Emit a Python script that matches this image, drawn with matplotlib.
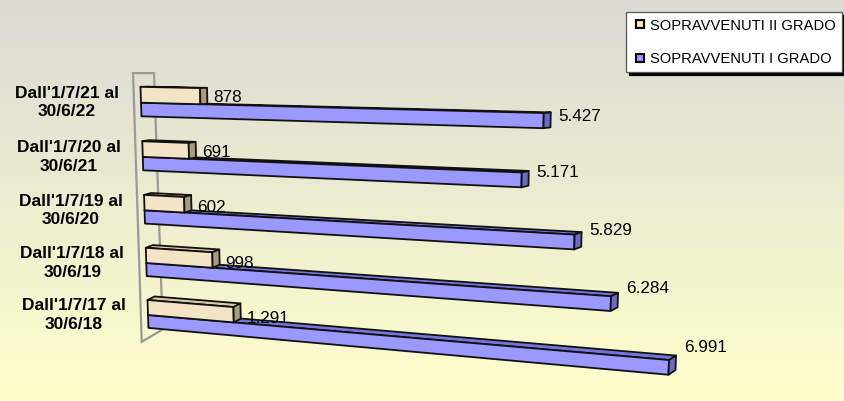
import numpy as np
import matplotlib
matplotlib.use("Agg")
import matplotlib.pyplot as plt
from matplotlib.patches import Polygon
from matplotlib.lines import Line2D

plt.rcParams["font.family"] = ["Liberation Sans", "DejaVu Sans"]

# ---- data -------------------------------------------------------------
periods = [
    "Dall'1/7/21 al\n30/6/22",
    "Dall'1/7/20 al\n30/6/21",
    "Dall'1/7/19 al\n30/6/20",
    "Dall'1/7/18 al\n30/6/19",
    "Dall'1/7/17 al\n30/6/18",
]
sopravvenuti_i_grado = [5427, 5171, 5829, 6284, 6991]
sopravvenuti_ii_grado = [878, 691, 602, 998, 1291]
series_names = ["SOPRAVVENUTI II GRADO", "SOPRAVVENUTI I GRADO"]

# ---- styling ----------------------------------------------------------
W, H = 845, 401
BEIGE = dict(front="#F3E4C6", top="#D9C9A6", end="#A99C7E")
BLUE = dict(front="#9999FF", top="#7474DC", end="#6A6ACB")
EDGE = "#111111"

# ---- perspective view -------------------------------------------------
# the front plane of the bars is (value, row) -> canvas pixels; a row step
# of 1 separates two periods, value runs along the slanted bar direction
VALUE_MAX = 7000.0
ROW_MAX = len(periods) - 1
plane_corners = [(0.0, 0.0), (VALUE_MAX, 0.0), (0.0, ROW_MAX), (VALUE_MAX, ROW_MAX)]
canvas_corners = [(141.0, 102.7), (678.5, 116.5), (148.0, 315.0), (669.8, 360.1)]
HORIZON = 73.0      # eye level in canvas pixels
DEPTH_RATE = 450.0  # how fast receding edges tilt away from the horizon
BAR_DEPTH = 7.0
WALL_FRONT, WALL_BACK = -7.0, 14.0
WALL_ROWS = (-0.54, ROW_MAX + 0.44)
BAR_II = (-0.29, 0.0)   # row band of the II grado bar inside a period
BAR_I = (0.0, 0.25)     # row band of the I grado bar


def fit_homography(src, dst):
    a, b = [], []
    for (u, v), (x, y) in zip(src, dst):
        a.append([u, v, 1, 0, 0, 0, -u * x, -v * x]); b.append(x)
        a.append([0, 0, 0, u, v, 1, -u * y, -v * y]); b.append(y)
    h = np.linalg.solve(np.array(a, float), np.array(b, float))
    return np.append(h, 1.0).reshape(3, 3)


HMAT = fit_homography(plane_corners, canvas_corners)


def project(value, row, depth=0.0):
    p = HMAT @ np.array([value, row, 1.0])
    x, y = p[0] / p[2], p[1] / p[2]
    return x + depth, y - depth * (y - HORIZON) / DEPTH_RATE


def box_faces(value, r0, r1, depth):
    front = [project(0, r0), project(value, r0), project(value, r1), project(0, r1)]
    top = [project(0, r0), project(value, r0), project(value, r0, depth), project(0, r0, depth)]
    end = [project(value, r0), project(value, r0, depth), project(value, r1, depth), project(value, r1)]
    return front, top, end


def draw_bar(ax, value, r0, r1, colors):
    front, top, end = box_faces(value, r0, r1, BAR_DEPTH)
    for pts, key in ((top, "top"), (front, "front"), (end, "end")):
        ax.add_patch(Polygon(pts, closed=True, facecolor=colors[key],
                             edgecolor=EDGE, lw=1.3, joinstyle="round"))
    return front, end


def fmt(v):
    return f"{v:,}".replace(",", ".")


# ---- figure -----------------------------------------------------------
fig = plt.figure(figsize=(W / 100, H / 100), dpi=100)

bg = fig.add_axes([0, 0, 1, 1])
top_c = np.array([218, 218, 212]) / 255
bot_c = np.array([255, 255, 204]) / 255
t = np.linspace(0, 1, 256)[:, None]
grad = top_c[None, :] * (1 - t) + bot_c[None, :] * t
bg.imshow(grad[:, None, :], aspect="auto", extent=[0, 1, 0, 1])
bg.set_axis_off()

ax = fig.add_axes([0, 0, 1, 1])
ax.set_xlim(0, W)
ax.set_ylim(H, 0)
ax.set_axis_off()
ax.patch.set_alpha(0)

# category wall at the base of the bars
wall = [project(0, WALL_ROWS[0], WALL_FRONT), project(0, WALL_ROWS[0], WALL_BACK),
        project(0, WALL_ROWS[1], WALL_BACK), project(0, WALL_ROWS[1], WALL_FRONT)]
ax.add_patch(Polygon(wall, closed=True, fill=False, edgecolor="#9A9A9A", lw=1.6))

for i, (label, v1, v2) in enumerate(zip(periods, sopravvenuti_i_grado, sopravvenuti_ii_grado)):
    f1, e1 = draw_bar(ax, v1, i + BAR_I[0], i + BAR_I[1], BLUE)
    f2, e2 = draw_bar(ax, v2, i + BAR_II[0], i + BAR_II[1], BEIGE)

    # period label left of the wall
    lx, ly = project(0, i)
    ax.text(lx - 22, ly, label, ha="right", va="center", multialignment="center",
            fontsize=12.5, fontweight="bold", linespacing=1.3, color="black")

    # value labels after the bar ends
    yc1 = (f1[1][1] + f1[2][1]) / 2
    ax.text(max(p[0] for p in e1) + 8, yc1 - (1 + 0.063 * (yc1 - HORIZON)), fmt(v1),
            ha="left", va="center", fontsize=12.3, color="black")
    yc2 = (f2[1][1] + f2[2][1]) / 2
    ax.text(max(p[0] for p in e2) + 6, yc2 + 0.5 + 0.015 * (yc2 - HORIZON), fmt(v2),
            ha="left", va="center", fontsize=12.3, color="black")

handles = [
    Line2D([], [], ls="none", marker="s", ms=6, mfc=BEIGE["front"], mec="black", mew=1.5),
    Line2D([], [], ls="none", marker="s", ms=6, mfc=BLUE["front"], mec="black", mew=1.5),
]
leg = fig.legend(handles, series_names, loc="upper right",
                 bbox_to_anchor=(842 / W, 1 - 12 / H), borderaxespad=0,
                 fontsize=10.6, labelspacing=1.3, handlelength=1.0, handletextpad=0.15,
                 borderpad=0.45, fancybox=False, framealpha=1, edgecolor="#555555",
                 shadow={"color": "black", "alpha": 1.0})
leg.get_frame().set_linewidth(0.9)

fig.savefig("out.png", dpi=100)
